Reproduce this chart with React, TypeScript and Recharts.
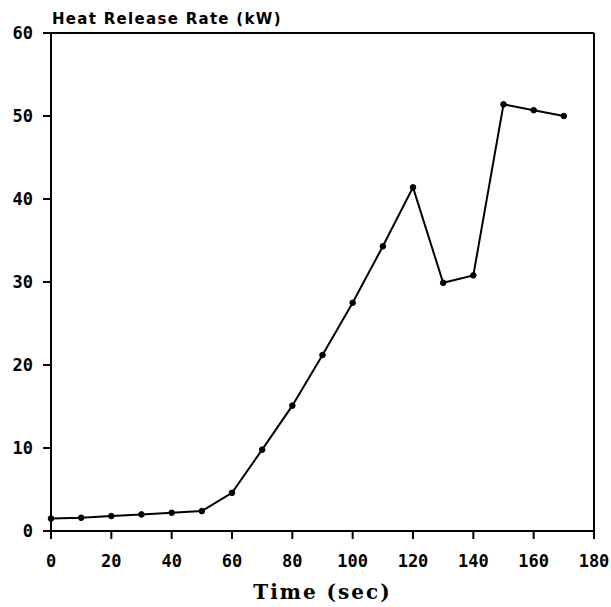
import { LineChart, Line, XAxis, YAxis, ReferenceLine } from 'recharts'

// Heat release rate readings, one every 10 seconds
const times = [0, 10, 20, 30, 40, 50, 60, 70, 80, 90, 100, 110, 120, 130, 140, 150, 160, 170]
const heatRelease = [1.5, 1.6, 1.8, 2.0, 2.2, 2.4, 4.6, 9.8, 15.1, 21.2, 27.5, 34.3, 41.4, 29.9, 30.8, 51.4, 50.7, 50.0]

const xTicks = [0, 20, 40, 60, 80, 100, 120, 140, 160, 180]
const yTicks = [0, 10, 20, 30, 40, 50, 60]

const data = times.map((t, i) => ({ time: t, hrr: heatRelease[i] }))

const tickStyle = {
  fontFamily: 'DejaVu Sans Mono',
  fontWeight: 'bold' as const,
  fontSize: 17,
  fill: '#000',
}

export default function App() {
  return (
    <div style={{ position: 'absolute', left: 0, top: 0, width: 611, height: 607, background: '#fff' }}>
      <div
        style={{
          position: 'absolute',
          left: 52,
          top: 10,
          fontFamily: 'DejaVu Sans',
          fontWeight: 'bold',
          fontSize: 15,
          letterSpacing: 1.3,
          color: '#000',
          whiteSpace: 'nowrap',
        }}
      >
        Heat Release Rate (kW)
      </div>
      <LineChart width={611} height={607} data={data} margin={{ top: 33, right: 17, bottom: 0, left: 0 }}>
        <XAxis
          dataKey="time"
          type="number"
          domain={[0, 180]}
          ticks={xTicks}
          height={76}
          stroke="#000"
          strokeWidth={2}
          tickSize={8}
          tickMargin={16}
          tick={tickStyle}
          interval={0}
          label={{
            value: 'Time (sec)',
            position: 'insideBottom',
            offset: 8,
            style: { fontFamily: 'DejaVu Serif', fontWeight: 'bold', fontSize: 20, letterSpacing: 2, fill: '#000' },
          }}
        />
        <YAxis
          type="number"
          domain={[0, 60]}
          ticks={yTicks}
          width={51}
          stroke="#000"
          strokeWidth={2}
          tickSize={8}
          tickMargin={10}
          tick={tickStyle}
          interval={0}
        />
        <ReferenceLine y={60} stroke="#000" strokeWidth={2} />
        <ReferenceLine x={180} stroke="#000" strokeWidth={2} />
        <Line
          type="linear"
          dataKey="hrr"
          stroke="#000"
          strokeWidth={2}
          dot={{ r: 2.8, fill: '#000', stroke: '#000', strokeWidth: 1 }}
          isAnimationActive={false}
        />
      </LineChart>
    </div>
  )
}
